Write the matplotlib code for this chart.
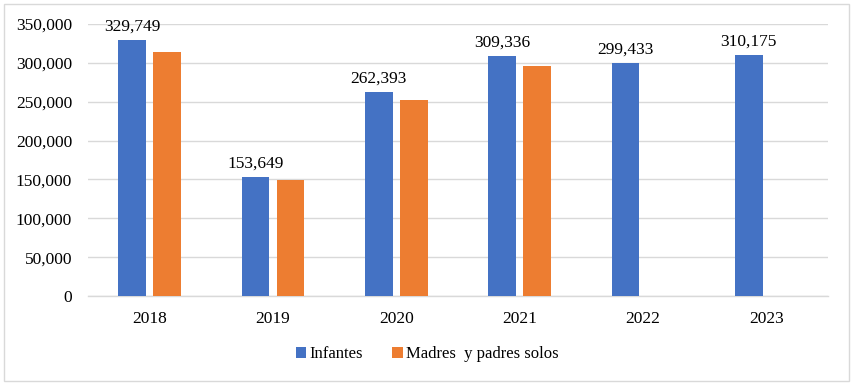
import numpy as np
import matplotlib.pyplot as plt
from matplotlib.patches import Rectangle

plt.rcParams['font.family'] = ['Liberation Serif', 'DejaVu Serif']

years = ['2018', '2019', '2020', '2021', '2022', '2023']
infantes = [329749, 153649, 262393, 309336, 299433, 310175]
madres_padres = [314000, 149000, 252000, 296000, np.nan, np.nan]

blue = '#4472C4'
orange = '#ED7D31'
grid_color = '#D9D9D9'
fs = 12.5

fig = plt.figure(figsize=(8.53, 3.84), dpi=100)
ax = fig.add_axes([88 / 853, 1 - 296 / 384, 740 / 853, 272 / 384])

x = np.arange(len(years))
w = 0.224
off = 0.142
ax.bar(x - off, infantes, w, color=blue, label='Infantes', zorder=3)
ax.bar(x + off, madres_padres, w, color=orange, label='Madres  y padres solos', zorder=3)

# data labels only on the Infantes series
for xi, v in zip(x, infantes):
    ax.text(xi - off, v + 7000, f'{v:,}', ha='center', va='bottom', fontsize=fs, color='#000000')

ax.set_xlim(-0.5, len(years) - 0.5)
ax.set_ylim(0, 350000)
ax.set_yticks(np.arange(0, 350001, 50000))
ax.yaxis.set_major_formatter(plt.FuncFormatter(lambda v, p: f'{int(v):,}'))
ax.set_xticks(x)
ax.set_xticklabels(years)
ax.tick_params(axis='both', length=0, labelsize=fs, colors='#000000')
ax.tick_params(axis='y', pad=11.5)
ax.tick_params(axis='x', pad=11)
ax.grid(axis='y', color=grid_color, linewidth=1, zorder=0)
for s in ['top', 'right', 'left']:
    ax.spines[s].set_visible(False)
ax.spines['bottom'].set_color(grid_color)
ax.spines['bottom'].set_linewidth(1)

leg = fig.legend(loc='center', bbox_to_anchor=(427 / 853, 1 - 354 / 384), ncol=2, frameon=False,
                 fontsize=12, handlelength=0.65, handleheight=0.65, handletextpad=0.15,
                 columnspacing=1.8)

# light frame around the whole chart
fig.patches.append(Rectangle((4 / 853, 3 / 384), 845 / 853, 377 / 384, transform=fig.transFigure,
                             fill=False, edgecolor=grid_color, linewidth=1))

fig.savefig('out.png', dpi=100)
